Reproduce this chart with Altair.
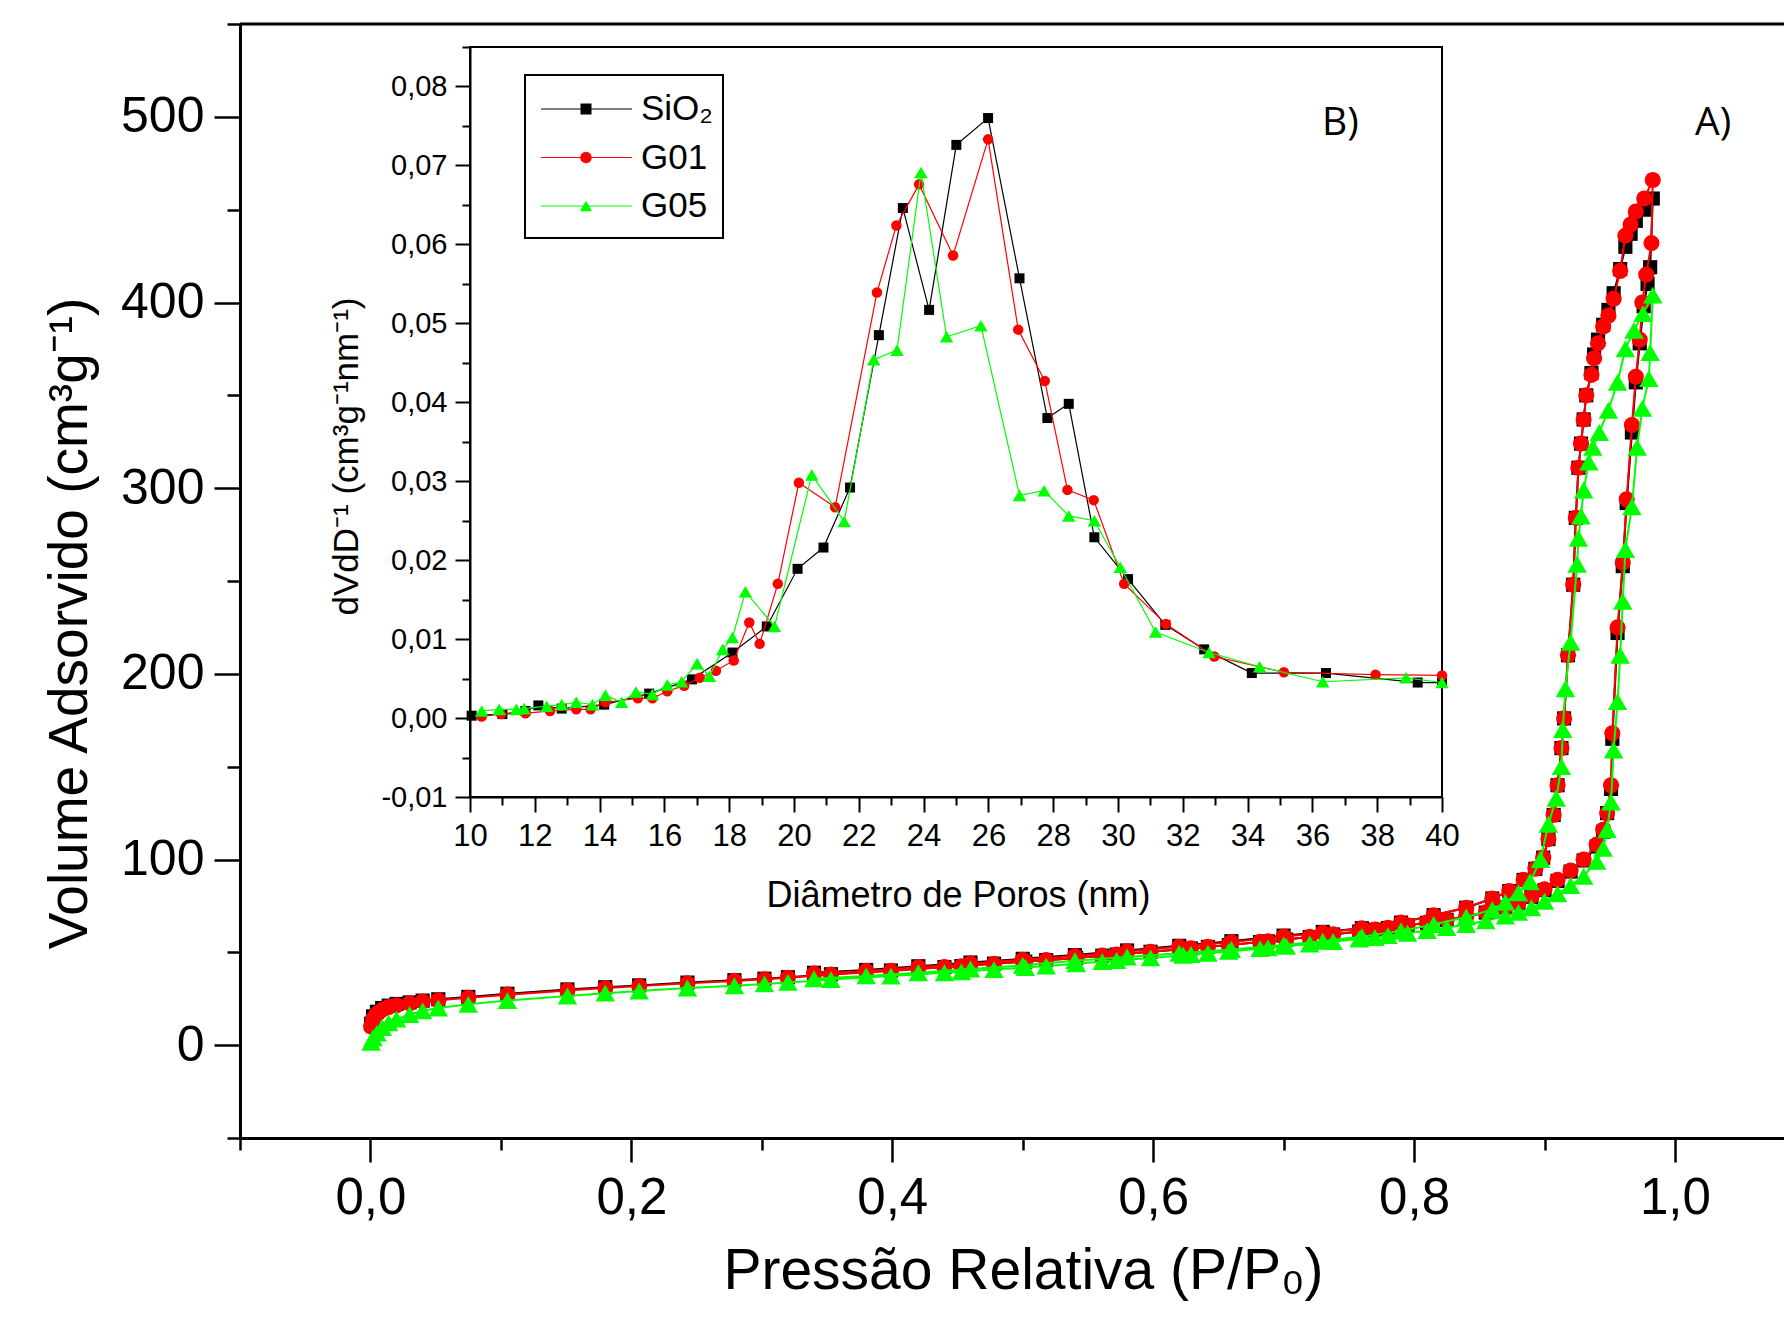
import altair as alt
import pandas as pd

# ---------------- (A) N2 isotherms: relative pressure / adsorbed volume ----------------
P_LOW = [0.0005, 0.002, 0.005, 0.009, 0.014, 0.02, 0.03, 0.04, 0.052, 0.075,
         0.105, 0.151, 0.18, 0.206, 0.243, 0.279, 0.302, 0.32, 0.353, 0.399,
         0.44, 0.453, 0.478, 0.502, 0.518, 0.541, 0.561, 0.572, 0.598, 0.623,
         0.629, 0.642, 0.658, 0.682, 0.688, 0.702, 0.72, 0.738, 0.758, 0.77,
         0.78, 0.795, 0.81, 0.825, 0.84, 0.855, 0.87, 0.88, 0.89, 0.9,
         0.91, 0.92, 0.93, 0.94]
SIO2_LOW = [11.5, 15.5, 18, 20, 21.3, 22.2, 23, 24, 24.7, 26,
            27.7, 30, 31.2, 32.2, 33.7, 35, 35.8, 36.6, 38.2, 40.2,
            42.1, 42.6, 43.9, 45, 45.8, 47, 48.2, 48.8, 50.3, 51.7,
            52.1, 52.9, 53.9, 55.5, 55.9, 56.9, 58.2, 59.6, 61.2, 62.2,
            63.1, 64.5, 65.9, 67.5, 69.3, 71.4, 74.2, 76.5, 79.8, 83.5,
            88.5, 93.5, 99.5, 107]
G01_LOW = [10, 14, 17, 19, 20.5, 21.5, 22.5, 23.5, 24.2, 25.5,
           27.2, 29.5, 30.8, 31.8, 33.3, 34.6, 35.5, 36.3, 38, 40,
           42, 42.5, 43.8, 45, 45.8, 47, 48.2, 48.8, 50.3, 51.8,
           52.2, 53, 54, 55.6, 56, 57, 58.3, 59.7, 61.3, 62.3,
           63.2, 64.6, 66, 67.6, 69.4, 71.5, 74.3, 76.6, 80, 84,
           89, 94, 100, 108]
G05_LOW = [1.5, 4, 6.5, 9.5, 12, 14, 16.5, 18.5, 20, 22,
           24, 26.5, 28, 29.2, 30.8, 32, 33, 33.8, 35.3, 37.2,
           39, 39.5, 40.7, 41.8, 42.6, 43.8, 45, 45.6, 47, 48.4,
           48.8, 49.5, 50.5, 52, 52.4, 53.3, 54.5, 55.8, 57.2, 58,
           59, 60.3, 61.7, 63.3, 65, 67, 69.5, 71.5, 74, 77.5,
           81.5, 86, 91, 99]

# steep adsorption branch up to the top of the loop
SIO2_UP_P = [0.945, 0.948, 0.951, 0.952, 0.956, 0.96, 0.963, 0.967, 0.97, 0.973, 0.976, 0.979, 0.981, 0.983]
SIO2_UP_V = [115, 125, 138, 165, 222, 258, 292, 330, 357, 378, 398, 410, 419, 456]
G01_UP_P = [0.945, 0.948, 0.951, 0.952, 0.956, 0.96, 0.963, 0.967, 0.97, 0.973, 0.975, 0.978, 0.982, 0.983]
G01_UP_V = [116, 125, 140, 168, 225, 260, 294, 334, 360, 380, 400, 415, 432, 466]
G05_UP_P = [0.945, 0.948, 0.951, 0.953, 0.956, 0.958, 0.96, 0.962, 0.967, 0.971, 0.975, 0.98, 0.981, 0.983]
G05_UP_V = [106, 116, 131, 159, 185, 210, 239, 267, 290, 322, 343, 359, 373, 404]

# desorption branch
DES_P = [0.9765, 0.970, 0.966, 0.962, 0.958, 0.953, 0.949, 0.945, 0.941, 0.938,
         0.936, 0.932, 0.930, 0.928, 0.926, 0.924, 0.922, 0.918, 0.915, 0.913,
         0.910, 0.907, 0.903, 0.899, 0.893, 0.884, 0.873, 0.86, 0.84, 0.815,
         0.79, 0.76, 0.73, 0.70, 0.66, 0.62, 0.58, 0.54, 0.50, 0.46,
         0.42, 0.38, 0.34]
SIO2_DES_V = [450, 444, 437, 430, 418, 405, 396, 388, 380, 372,
              362, 350, 337, 324, 311, 284, 248, 210, 176, 160,
              140, 124, 111, 101, 95, 89, 83, 79, 74, 70,
              66, 63, 61, 59, 56, 53.5, 51, 48.5, 46.5, 44.5,
              42.5, 40.5, 39]
G01_DES_V = [456, 449, 442, 436, 417, 402, 393, 387, 378, 370,
             361, 350, 337, 324, 311, 284, 248, 210, 176, 160,
             140, 124, 111, 101, 95, 89, 83, 79, 74, 70,
             66, 63, 60.5, 58.5, 55.5, 53, 50.5, 48, 46, 44,
             42, 40, 38.5]
G05_DES_P = [0.9755, 0.9686, 0.962, 0.956, 0.949, 0.942, 0.937, 0.934, 0.930, 0.928,
             0.926, 0.925, 0.920, 0.916, 0.914, 0.913, 0.909, 0.903, 0.897, 0.889,
             0.88, 0.87, 0.86, 0.84, 0.815, 0.79, 0.76, 0.73, 0.70, 0.66,
             0.62, 0.58, 0.54, 0.50, 0.46, 0.42, 0.38, 0.34]
G05_DES_V = [394, 385, 375, 357, 342, 330, 322, 314, 299, 285,
             273, 259, 217, 192, 170, 150, 133, 119, 100, 88,
             82, 77, 73, 69, 65, 61.5, 58.5, 56, 54, 51.5,
             49.5, 47.5, 45.5, 43, 41, 39, 37.3, 35.8]

# ---------------- (B) pore size distribution ----------------
D_SIO2 = [10.05, 11.0, 11.71, 12.11, 12.83, 14.14, 15.53, 16.85, 18.10, 19.16,
          20.11, 20.91, 21.73, 22.62, 23.36, 24.17, 25.01, 25.99, 26.96, 27.82,
          28.48, 29.27, 30.31, 31.46, 32.66, 34.13, 36.42, 39.25, 40.0]
V_SIO2 = [0.0003, 0.0005, 0.0009, 0.0016, 0.0012, 0.0017, 0.0031, 0.0049, 0.0083, 0.0116,
          0.0189, 0.0216, 0.0292, 0.0485, 0.0646, 0.0517, 0.0726, 0.0760, 0.0557, 0.0380,
          0.0398, 0.0229, 0.0176, 0.0118, 0.0087, 0.0057, 0.0057, 0.0045, 0.0045]
D_G01 = [10.36, 10.96, 11.71, 12.47, 13.28, 13.72, 14.18, 15.18, 15.63, 16.09,
         16.61, 17.09, 17.59, 18.14, 18.62, 18.94, 19.50, 20.15, 21.27, 22.56,
         23.16, 23.86, 24.91, 25.99, 26.92, 27.74, 28.44, 29.25, 30.19, 31.48,
         32.97, 35.12, 37.95, 40.0]
V_G01 = [0.0002, 0.0005, 0.0006, 0.0009, 0.0011, 0.0011, 0.0020, 0.0025, 0.0025, 0.0034,
         0.0041, 0.0051, 0.0060, 0.0073, 0.0121, 0.0094, 0.0170, 0.0298, 0.0267, 0.0539,
         0.0624, 0.0676, 0.0586, 0.0733, 0.0492, 0.0427, 0.0289, 0.0276, 0.0170, 0.0119,
         0.0078, 0.0058, 0.0055, 0.0054]
D_G05 = [10.36, 10.90, 11.43, 11.67, 12.37, 12.83, 13.28, 13.78, 14.18, 14.68,
         15.12, 15.63, 16.09, 16.53, 17.01, 17.39, 17.80, 18.10, 18.50, 19.40,
         20.55, 21.55, 22.46, 23.18, 23.92, 24.71, 25.77, 26.96, 27.72, 28.48,
         29.27, 30.07, 31.16, 32.81, 34.37, 36.32, 38.89, 40.0]
V_G05 = [0.0009, 0.0011, 0.0011, 0.0012, 0.0015, 0.0017, 0.0020, 0.0017, 0.0029, 0.0020,
         0.0033, 0.0030, 0.0042, 0.0046, 0.0069, 0.0053, 0.0087, 0.0102, 0.0160, 0.0116,
         0.0308, 0.0249, 0.0454, 0.0466, 0.0691, 0.0483, 0.0497, 0.0282, 0.0288, 0.0256,
         0.0250, 0.0191, 0.0109, 0.0083, 0.0065, 0.0046, 0.0051, 0.0045]

SERIES = ["SiO2", "G01", "G05"]
LABELS = ["SiO₂", "G01", "G05"]
COLORS = ["#000000", "#ff0000", "#00ff00"]
SHAPES = ["square", "circle", "triangle-up"]

XA_MAJOR = [0.0, 0.2, 0.4, 0.6, 0.8, 1.0]
XA_MINOR = [-0.1, 0.1, 0.3, 0.5, 0.7, 0.9]
YA_MAJOR = [0, 100, 200, 300, 400, 500]
YA_MINOR = [-50, 50, 150, 250, 350, 450, 550]
XB_MAJOR = list(range(10, 41, 2))
XB_MINOR = list(range(11, 40, 2))
YB_MAJOR = [-0.01, 0.0, 0.01, 0.02, 0.03, 0.04, 0.05, 0.06, 0.07, 0.08]
YB_MINOR = [-0.005, 0.005, 0.015, 0.025, 0.035, 0.045, 0.055, 0.065, 0.075, 0.085]

# ---------------- frames ----------------
def iso_rows(name, low_v, up_p, up_v, des_p, des_v):
    P = P_LOW + up_p + des_p
    V = low_v + up_v + des_v
    return pd.DataFrame({"s": name, "i": range(len(P)), "P": P, "V": V})

main_df = {
    "SiO2": iso_rows("SiO2", SIO2_LOW, SIO2_UP_P, SIO2_UP_V, DES_P, SIO2_DES_V),
    "G01": iso_rows("G01", G01_LOW, G01_UP_P, G01_UP_V, DES_P, G01_DES_V),
    "G05": iso_rows("G05", G05_LOW, G05_UP_P, G05_UP_V, G05_DES_P, G05_DES_V),
}
inset_df = {
    "SiO2": pd.DataFrame({"D": D_SIO2, "v": V_SIO2}),
    "G01": pd.DataFrame({"D": D_G01, "v": V_G01}),
    "G05": pd.DataFrame({"D": D_G05, "v": V_G05}),
}

W, H = 1544, 1114
XMAX = -0.1 + W / 1304.5
XA = alt.Scale(domain=[-0.1, XMAX], nice=False, zero=False)
YA = alt.Scale(domain=[-50, 550], nice=False, zero=False)
IX0, IX1, IY0, IY1 = 230, 1202, 773, 23
XB = alt.Scale(domain=[10, 40], range=[IX0, IX1], nice=False, zero=False)
YB = alt.Scale(domain=[-0.01, 0.085], range=[IY0, IY1], nice=False, zero=False)

FONT = "Liberation Sans, Arial, sans-serif"
COMMA1 = "replace(format(datum.value, '.1f'), '.', ',')"
COMMA2 = "replace(replace(format(datum.value, '.2f'), '.', ','), '\u2212', '-')"

layers = []

# main frame top line
layers.append(alt.Chart(pd.DataFrame({"k": [0]})).mark_rule(color="black", strokeWidth=3).encode(
    x=alt.value(0), x2=alt.value(W), y=alt.value(0)))

def axis_layer(vals, scale, channel, **ax):
    df = pd.DataFrame({"t": vals})
    base = alt.Chart(df).mark_point(opacity=0)
    common = dict(grid=False, domainColor="black", tickColor="black", labelColor="black",
                  titleColor="black", labelFlush=False, labelOverlap=False)
    common.update(ax)
    if channel == "x":
        return base.encode(x=alt.X("t:Q", scale=scale, axis=alt.Axis(**common)), y=alt.value(0))
    return base.encode(y=alt.Y("t:Q", scale=scale, axis=alt.Axis(**common)), x=alt.value(0))

# main axes
layers.append(axis_layer(XA_MAJOR, XA, "x", orient="bottom", values=XA_MAJOR, tickSize=24, tickWidth=2.5,
                         domainWidth=3, labelExpr=COMMA1, labelFont=FONT, labelFontSize=51,
                         labelPadding=11, title="Pressão Relativa (P/P₀)", titleFont=FONT,
                         titleFontSize=57, titleFontWeight="normal", titleX=783, titleY=150,
                         titleBaseline="alphabetic", titleAlign="center", titleAnchor="start"))
layers.append(axis_layer(XA_MINOR, XA, "x", orient="bottom", values=XA_MINOR, tickSize=12, tickWidth=2.5,
                         domain=False, labels=False, title=None))
layers.append(axis_layer(YA_MAJOR, YA, "y", orient="left", values=YA_MAJOR, tickSize=26, tickWidth=2.5,
                         domainWidth=3, format="d", labelFont=FONT, labelFontSize=50, labelPadding=10,
                         title="Volume Adsorvido (cm³g⁻¹)", titleFont=FONT, titleFontSize=55,
                         titleFontWeight="normal", titleAngle=270, titleX=-154, titleY=599,
                         titleBaseline="alphabetic", titleAlign="center", titleAnchor="start"))
layers.append(axis_layer(YA_MINOR, YA, "y", orient="left", values=YA_MINOR, tickSize=13, tickWidth=2.5,
                         domain=False, labels=False, title=None))

# main data
for name, col, shp, sz in zip(SERIES, COLORS, SHAPES, [200, 260, 380]):
    base = alt.Chart(main_df[name])
    layers.append(base.mark_line(color=col, strokeWidth=2).encode(
        x=alt.X("P:Q", scale=XA, axis=None), y=alt.Y("V:Q", scale=YA, axis=None), order="i:Q"))
    layers.append(base.mark_point(shape=shp, filled=True, size=sz, color=col, opacity=1).encode(
        x=alt.X("P:Q", scale=XA, axis=None), y=alt.Y("V:Q", scale=YA, axis=None)))

# inset frame
layers.append(alt.Chart(pd.DataFrame({"x": [10], "x2": [40], "y": [-0.01], "y2": [0.085]})).mark_rect(
    fillOpacity=0, stroke="black", strokeWidth=2).encode(
    x=alt.X("x:Q", scale=XB, axis=None), x2="x2:Q", y=alt.Y("y:Q", scale=YB, axis=None), y2="y2:Q"))

# inset axes
layers.append(axis_layer(XB_MAJOR, XB, "x", orient="bottom", offset=-(H - IY0), values=XB_MAJOR,
                         tickSize=15, tickWidth=2, domainWidth=2, format="d", labelFont=FONT,
                         labelFontSize=31, labelPadding=9, title="Diâmetro de Poros (nm)",
                         titleFont=FONT, titleFontSize=36, titleFontWeight="normal", titleX=718,
                         titleY=109, titleBaseline="alphabetic", titleAlign="center", titleAnchor="start"))
layers.append(axis_layer(XB_MINOR, XB, "x", orient="bottom", offset=-(H - IY0), values=XB_MINOR,
                         tickSize=8, tickWidth=2, domain=False, labels=False, title=None))
layers.append(axis_layer(YB_MAJOR, YB, "y", orient="left", offset=-IX0, values=YB_MAJOR,
                         tickSize=15, tickWidth=2, domainWidth=2, labelExpr=COMMA2, labelFont=FONT,
                         labelFontSize=29, labelPadding=8, title="dVdD⁻¹ (cm³g⁻¹nm⁻¹)",
                         titleFont=FONT, titleFontSize=35, titleFontWeight="normal", titleAngle=270,
                         titleX=-113, titleY=432, titleBaseline="alphabetic", titleAlign="center",
                         titleAnchor="start"))
layers.append(axis_layer(YB_MINOR, YB, "y", orient="left", offset=-IX0, values=YB_MINOR,
                         tickSize=8, tickWidth=2, domain=False, labels=False, title=None))

# inset data
for name, col, shp, sz in zip(SERIES, COLORS, SHAPES, [100, 110, 180]):
    base = alt.Chart(inset_df[name])
    layers.append(base.mark_line(color=col, strokeWidth=1.2).encode(
        x=alt.X("D:Q", scale=XB, axis=None), y=alt.Y("v:Q", scale=YB, axis=None)))
    layers.append(base.mark_point(shape=shp, filled=True, size=sz, color=col, opacity=1).encode(
        x=alt.X("D:Q", scale=XB, axis=None), y=alt.Y("v:Q", scale=YB, axis=None)))

# legend (inside inset)
leg = pd.DataFrame({"s": SERIES, "label": LABELS})
ROWS = alt.Scale(type="point", domain=SERIES, range=[85, 182], padding=0)
CSC = alt.Scale(domain=SERIES, range=COLORS)
layers.append(alt.Chart(pd.DataFrame({"k": [0]})).mark_rect(fillOpacity=0, stroke="black", strokeWidth=2).encode(
    x=alt.value(285), x2=alt.value(483), y=alt.value(51), y2=alt.value(214)))
layers.append(alt.Chart(leg).mark_rule(strokeWidth=1.2).encode(
    x=alt.value(301), x2=alt.value(392), y=alt.Y("s:N", scale=ROWS, axis=None),
    color=alt.Color("s:N", scale=CSC, legend=None)))
layers.append(alt.Chart(leg).mark_point(filled=True, opacity=1).encode(
    x=alt.value(346), y=alt.Y("s:N", scale=ROWS, axis=None),
    color=alt.Color("s:N", scale=CSC, legend=None),
    shape=alt.Shape("s:N", scale=alt.Scale(domain=SERIES, range=SHAPES), legend=None),
    size=alt.Size("s:N", scale=alt.Scale(domain=SERIES, range=[121, 150, 200]), legend=None)))
layers.append(alt.Chart(leg).mark_text(align="left", baseline="middle", font=FONT, fontSize=35,
                                       color="black").encode(
    x=alt.value(401), y=alt.Y("s:N", scale=ROWS, axis=None), text="label:N"))

# panel labels
layers.append(alt.Chart(pd.DataFrame({"t": ["A)"]})).mark_text(
    align="left", baseline="alphabetic", font="Open Sans", fontSize=39, color="black").encode(
    x=alt.value(1455), y=alt.value(111), text="t:N"))
layers.append(alt.Chart(pd.DataFrame({"t": ["B)"]})).mark_text(
    align="left", baseline="alphabetic", font="Open Sans", fontSize=39, color="black").encode(
    x=alt.value(1082), y=alt.value(111), text="t:N"))

chart = alt.layer(*layers).resolve_scale(
    x="independent", y="independent", color="independent", shape="independent", size="independent"
).resolve_axis(x="independent", y="independent").properties(
    width=W, height=H,
    padding={"left": 232, "top": 16, "right": 0, "bottom": 164},
    autosize=alt.AutoSizeParams(type="none"),
    background="white",
).configure_view(stroke=None)

chart.save("out.html", embed_options={"renderer": "svg", "actions": False})
